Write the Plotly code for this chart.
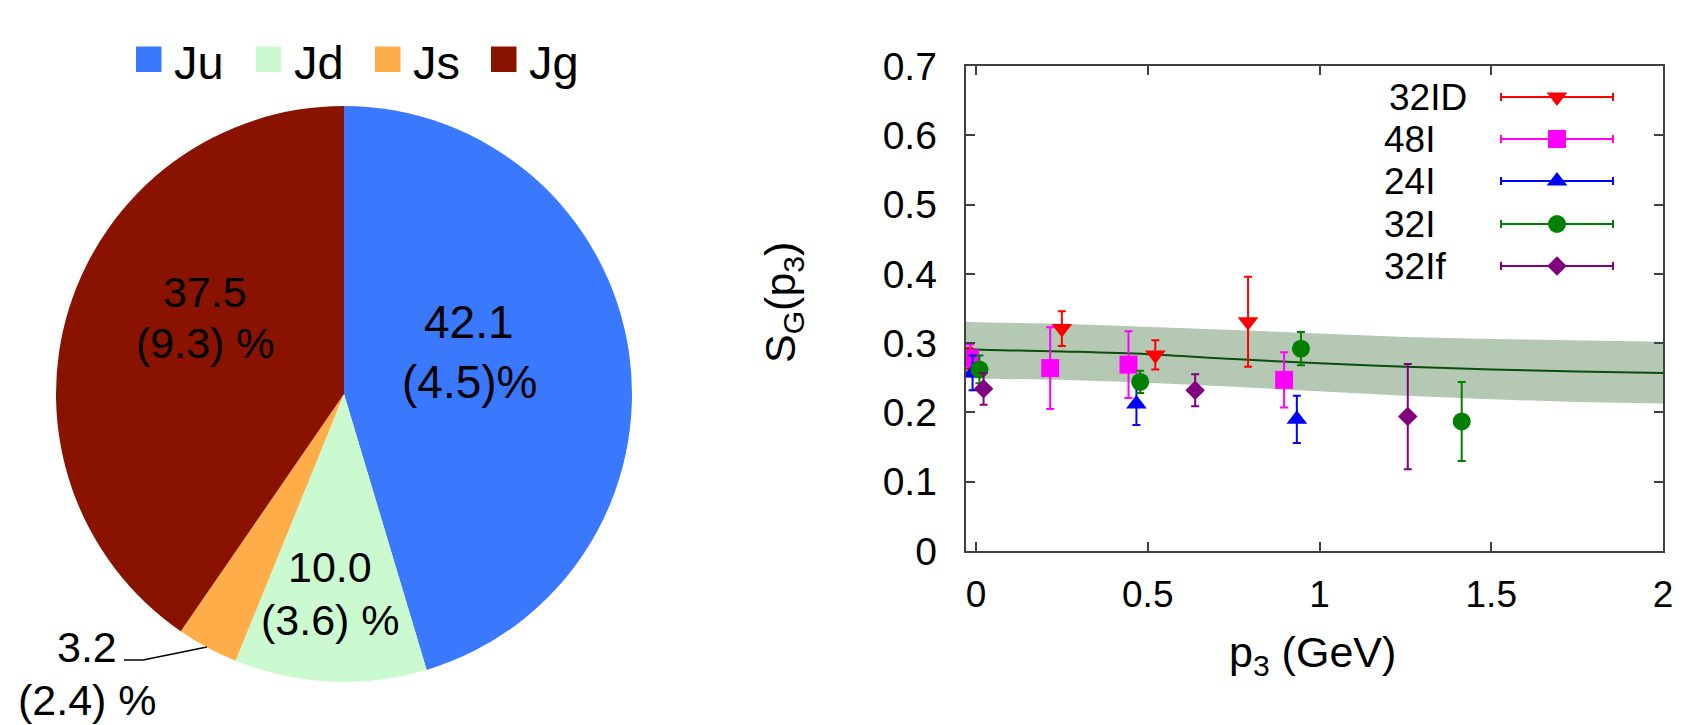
import plotly.graph_objects as go

W, H = 1691, 725

# ---------------- data: pie ----------------
pie_labels = ["Ju", "Jd", "Js", "Jg"]
pie_values = [42.1, 10.0, 3.2, 37.5]
pie_errors = [4.5, 3.6, 2.4, 9.3]
pie_colors = ["#3a78fd", "#ccfad0", "#fead48", "#8a1300"]

# ---------------- data: S_G(p3) ----------------
x_32ID = [-0.02, 0.250, 0.522, 0.792]
y_32ID = [0.278, 0.321, 0.283, 0.331]
e_32ID = [0.015, 0.025, 0.021, 0.065]

x_48I = [-0.017, 0.216, 0.444, 0.897]
y_48I = [0.278, 0.264, 0.269, 0.247]
e_48I = [0.020, 0.059, 0.048, 0.040]

x_24I = [-0.010, 0.467, 0.934]
y_24I = [0.257, 0.212, 0.190]
e_24I = [0.025, 0.030, 0.034]

x_32I = [0.010, 0.478, 0.946, 1.414]
y_32I = [0.262, 0.244, 0.292, 0.187]
e_32I = [0.020, 0.016, 0.024, 0.057]

x_32If = [0.022, 0.638, 1.257]
y_32If = [0.234, 0.232, 0.194]
e_32If = [0.023, 0.023, 0.076]

fit_x = [-0.03, 0.0, 0.25, 0.5, 0.75, 1.0, 1.25, 1.5, 1.75, 2.0]
fit_c = [0.292, 0.291, 0.288, 0.284, 0.277, 0.271, 0.266, 0.262, 0.259, 0.257]
fit_hi = [0.331, 0.330, 0.328, 0.324, 0.319, 0.314, 0.309, 0.306, 0.304, 0.302]
fit_lo = [0.250, 0.249, 0.247, 0.243, 0.237, 0.230, 0.224, 0.219, 0.215, 0.213]

x_ticks = [0, 0.5, 1, 1.5, 2]
x_tick_labels = ["0", "0.5", "1", "1.5", "2"]
y_ticks = [0, 0.1, 0.2, 0.3, 0.4, 0.5, 0.6, 0.7]
y_tick_labels = ["0", "0.1", "0.2", "0.3", "0.4", "0.5", "0.6", "0.7"]

series = [
    ("32ID", x_32ID, y_32ID, e_32ID, "#ff0000", "triangle-down", 18),
    ("48I", x_48I, y_48I, e_48I, "#ff00ff", "square", 18),
    ("24I", x_24I, y_24I, e_24I, "#0000ff", "triangle-up", 18),
    ("32I", x_32I, y_32I, e_32I, "#008000", "circle", 18),
    ("32If", x_32If, y_32If, e_32If, "#800080", "diamond", 15),
]

FONT = "Liberation Sans, Arial, sans-serif"


def px(x):
    return x / W


def py(y):
    return 1 - y / H


fig = go.Figure()

# ---------------- pie ----------------
cx, cy, R = 344, 394, 288
fig.add_trace(go.Pie(
    labels=pie_labels, values=pie_values, sort=False, direction="clockwise",
    rotation=0, textinfo="none", hoverinfo="label+value",
    marker=dict(colors=pie_colors, line=dict(width=0)),
    domain=dict(x=[px(cx - R), px(cx + R)], y=[py(cy + R), py(cy - R)]),
    showlegend=False,
))

annotations = []
shapes = []

# pie legend (manual, above the pie)
leg_sq_x = [136, 255.7, 375, 491]
for i, lab in enumerate(pie_labels):
    x0 = leg_sq_x[i]
    shapes.append(dict(type="rect", xref="paper", yref="paper",
                       x0=px(x0), x1=px(x0 + 25.5), y0=py(72), y1=py(46.5),
                       fillcolor=pie_colors[i], line=dict(width=0)))
    annotations.append(dict(text=lab, xref="paper", yref="paper",
                            x=px(x0 + 36), y=py(63), xanchor="left", yanchor="middle",
                            showarrow=False, font=dict(family=FONT, size=47, color="black")))

# pie value labels (two lines each)
lab_pos = {  # label: (x, y line1, y line2, size)
    "Ju": (469, 322, 382, 46),
    "Jd": (330, 567, 620, 43),
    "Js": (87, 647, 700, 43),
    "Jg": (205, 292, 343, 43),
}
for i, lab in enumerate(pie_labels):
    x, y1, y2, fs = lab_pos[lab]
    line1 = f"{pie_values[i]:.1f}"
    line2 = f"({pie_errors[i]})%" if lab == "Ju" else f"({pie_errors[i]}) %"
    for txt, yy in ((line1, y1), (line2, y2)):
        annotations.append(dict(text=txt, xref="paper", yref="paper", x=px(x), y=py(yy),
                                xanchor="center", yanchor="middle", showarrow=False,
                                font=dict(family=FONT, size=fs, color="black")))

# leader line for Js
shapes.append(dict(type="line", xref="paper", yref="paper", x0=px(124), y0=py(660),
                   x1=px(143), y1=py(660), line=dict(color="black", width=1.5)))
shapes.append(dict(type="line", xref="paper", yref="paper", x0=px(143), y0=py(660),
                   x1=px(207), y1=py(647), line=dict(color="black", width=1.5)))

# ---------------- S_G plot ----------------
fig.add_trace(go.Scatter(x=fit_x, y=fit_hi, mode="lines", line=dict(width=0),
                         showlegend=False, hoverinfo="skip", xaxis="x", yaxis="y"))
fig.add_trace(go.Scatter(x=fit_x, y=fit_lo, mode="lines", line=dict(width=0),
                         fill="tonexty", fillcolor="#b4c8b4",
                         showlegend=False, hoverinfo="skip", xaxis="x", yaxis="y"))
fig.add_trace(go.Scatter(x=fit_x, y=fit_c, mode="lines", line=dict(color="#0b4d0b", width=2),
                         line_shape="spline", showlegend=False, xaxis="x", yaxis="y"))

for name, xs, ys, es, col, sym, sz in series:
    fig.add_trace(go.Scatter(
        x=xs, y=ys, mode="markers", name=name, showlegend=False,
        marker=dict(symbol=sym, size=sz, color=col),
        error_y=dict(type="data", array=es, visible=True, color=col, thickness=2, width=4),
        xaxis="x", yaxis="y",
    ))

# manual legend (text left, key right) on a pixel-mapped full-figure axis pair
leg_rows = [97, 139, 181, 224, 266]
leg_text_x = [1387, 1382, 1382, 1382, 1382]
for (name, xs, ys, es, col, sym, sz), ry, tx in zip(series, leg_rows, leg_text_x):
    fig.add_trace(go.Scatter(
        x=[1557], y=[ry], mode="markers", showlegend=False, hoverinfo="skip",
        marker=dict(symbol=sym, size=sz, color=col),
        error_x=dict(type="constant", value=56, visible=True, color=col, thickness=2, width=4),
        xaxis="x2", yaxis="y2",
    ))
    annotations.append(dict(text=name, xref="paper", yref="paper", x=px(tx), y=py(ry),
                            xanchor="left", yanchor="middle", showarrow=False,
                            font=dict(family=FONT, size=37, color="black")))

# axis titles
annotations.append(dict(text="S<sub>G</sub>(p<sub>3</sub>)", xref="paper", yref="paper",
                        x=px(783), y=py(303), xanchor="center", yanchor="middle",
                        textangle=-90, showarrow=False,
                        font=dict(family=FONT, size=43, color="black")))
annotations.append(dict(text="p<sub>3</sub> (GeV)", xref="paper", yref="paper",
                        x=px(1312), y=py(655), xanchor="center", yanchor="middle",
                        showarrow=False, font=dict(family=FONT, size=43, color="black")))

axcol = "#404040"
fig.update_layout(
    template="none",
    width=W, height=H, margin=dict(l=0, r=0, t=0, b=0, pad=0, autoexpand=False),
    paper_bgcolor="white", plot_bgcolor="rgba(0,0,0,0)",
    font=dict(family=FONT, color="black"),
    showlegend=False,
    xaxis=dict(domain=[px(965.7), px(1663)], range=[-0.03, 2.0], anchor="y",
               tickvals=x_ticks, ticktext=x_tick_labels, automargin=False,
               showline=True, linecolor=axcol, linewidth=2, mirror="ticks",
               ticks="inside", ticklen=9, tickwidth=1.5, tickcolor=axcol,
               showgrid=False, zeroline=False, ticklabelstandoff=10,
               tickfont=dict(family=FONT, size=37, color="black")),
    yaxis=dict(domain=[py(551), py(66)], range=[0, 0.7], anchor="x",
               tickvals=y_ticks, ticktext=y_tick_labels, automargin=False,
               showline=True, linecolor=axcol, linewidth=2, mirror="ticks",
               ticks="inside", ticklen=9, tickwidth=1.5, tickcolor=axcol,
               showgrid=False, zeroline=False, ticklabelstandoff=19,
               tickfont=dict(family=FONT, size=39, color="black")),
    xaxis2=dict(domain=[0, 1], range=[0, W], visible=False, anchor="y2", automargin=False),
    yaxis2=dict(domain=[0, 1], range=[H, 0], visible=False, anchor="x2", automargin=False),
    annotations=annotations, shapes=shapes,
)

fig.write_html("out.html", config={"displayModeBar": False},
               post_script="document.body.style.margin='0';document.body.style.overflow='hidden';")
